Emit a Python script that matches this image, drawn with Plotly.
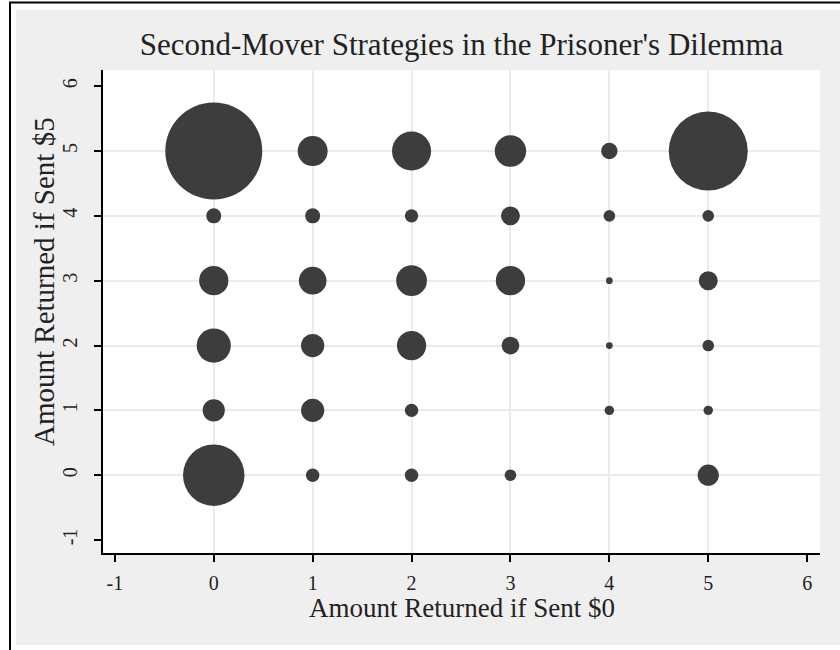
import plotly.graph_objects as go

# ---- data ----
returned_if_sent0 = [0, 1, 2, 3, 4, 5,
                     0, 1, 2, 3, 4, 5,
                     0, 1, 2, 3, 4, 5,
                     0, 1, 2, 3, 4, 5,
                     0, 1, 2, 4, 5,
                     0, 1, 2, 3, 5]
returned_if_sent5 = [5, 5, 5, 5, 5, 5,
                     4, 4, 4, 4, 4, 4,
                     3, 3, 3, 3, 3, 3,
                     2, 2, 2, 2, 2, 2,
                     1, 1, 1, 1, 1,
                     0, 0, 0, 0, 0]
frequency = [209, 20, 34, 22, 6, 139,
             5, 5, 4, 8, 3, 3,
             19, 17, 21, 19, 1, 8,
             26, 12, 19, 7, 1, 3,
             11, 12, 4, 2, 2,
             84, 4, 4, 3, 10]

tick_vals = [-1, 0, 1, 2, 3, 4, 5, 6]
grid_vals = [0, 1, 2, 3, 4, 5]
tick_text = ["-1", "0", "1", "2", "3", "4", "5", "6"]

title_text = "Second-Mover Strategies in the Prisoner's Dilemma"
x_title = "Amount Returned if Sent $0"
y_title = "Amount Returned if Sent $5"

# ---- layout geometry (pixels) ----
W, H = 840, 650
L, R, T, B = 103, 20, 70, 97
pw, ph = W - L - R, H - T - B

def px_x(x):
    return (x - L) / pw

def px_y(y):
    return (H - B - y) / ph

FONT = "Liberation Serif"
BG = "#efefef"
GRID = "#ebebeb"
MARK = "#3d3d3d"
TXT = "#222222"

xr = [-1.12, 6.13]
yr = [-1.2, 6.25]

fig = go.Figure()
fig.add_trace(go.Scatter(
    x=returned_if_sent0, y=returned_if_sent5, mode="markers",
    marker=dict(size=frequency, sizemode="area", sizeref=2 / 45,
                color=MARK, line=dict(width=0), opacity=1),
    showlegend=False, hoverinfo="x+y+text", text=frequency,
))
fig.add_trace(go.Scatter(x=[], y=[], xaxis="x2", yaxis="y2",
                         showlegend=False, hoverinfo="skip"))

fig.update_layout(
    width=W, height=H,
    margin=dict(l=L, r=R, t=T, b=B, pad=0),
    paper_bgcolor=BG, plot_bgcolor="white",
    font=dict(family=FONT, color="black", size=20),
    title=dict(text=title_text, x=0.5, xref="paper", xanchor="center",
               y=1 - 44 / H, yanchor="middle",
               font=dict(family=FONT, size=31, color=TXT)),
    xaxis=dict(range=xr, tickmode="array", tickvals=grid_vals,
               showticklabels=False, ticks="", showgrid=True,
               gridcolor=GRID, gridwidth=2, zeroline=False, showline=False),
    yaxis=dict(range=yr, tickmode="array", tickvals=grid_vals,
               showticklabels=False, ticks="", showgrid=True,
               gridcolor=GRID, gridwidth=2, zeroline=False, showline=False),
    xaxis2=dict(range=xr, overlaying="x", anchor="y2", side="bottom",
                tickmode="array", tickvals=tick_vals, ticktext=tick_text,
                ticks="outside", ticklen=7, tickwidth=1.5, tickcolor="black",
                showline=True, linecolor="black", linewidth=1.5,
                showgrid=False, zeroline=False, ticklabelstandoff=4,
                tickfont=dict(family=FONT, size=20, color=TXT)),
    yaxis2=dict(range=yr, overlaying="y", anchor="x2", side="left",
                tickmode="array", tickvals=tick_vals, ticktext=tick_text,
                ticks="outside", ticklen=7, tickwidth=1.5, tickcolor="black",
                showline=True, linecolor="black", linewidth=1.5,
                showgrid=False, zeroline=False, tickangle=-90,
                ticklabelstandoff=9,
                tickfont=dict(family=FONT, size=20, color=TXT)),
)

fig.add_annotation(text=x_title, xref="paper", yref="paper",
                   x=px_x(462), y=px_y(608), xanchor="center", yanchor="middle",
                   showarrow=False, font=dict(family=FONT, size=27, color=TXT))
fig.add_annotation(text=y_title, xref="paper", yref="paper",
                   x=px_x(44), y=px_y(282), xanchor="center", yanchor="middle",
                   textangle=-90, showarrow=False,
                   font=dict(family=FONT, size=29, color=TXT))

# outer frame: white margin strips and black border
shapes = [
    dict(type="rect", xref="paper", yref="paper", x0=px_x(0), x1=px_x(16),
         y0=px_y(H), y1=px_y(0), fillcolor="white", line=dict(width=0)),
    dict(type="rect", xref="paper", yref="paper", x0=px_x(0), x1=px_x(W),
         y0=px_y(10), y1=px_y(0), fillcolor="white", line=dict(width=0)),
    dict(type="rect", xref="paper", yref="paper", x0=px_x(0), x1=px_x(W),
         y0=px_y(H), y1=px_y(645), fillcolor="white", line=dict(width=0)),
    dict(type="line", xref="paper", yref="paper", x0=px_x(10), x1=px_x(10),
         y0=px_y(H), y1=px_y(2), line=dict(color="black", width=2)),
    dict(type="line", xref="paper", yref="paper", x0=px_x(9), x1=px_x(W),
         y0=px_y(2.5), y1=px_y(2.5), line=dict(color="black", width=2)),
]
fig.update_layout(shapes=shapes)

fig.write_html("out.html",
               config={"displayModeBar": False},
               post_script="document.body.style.margin='0';"
                           "document.body.style.padding='0';")
